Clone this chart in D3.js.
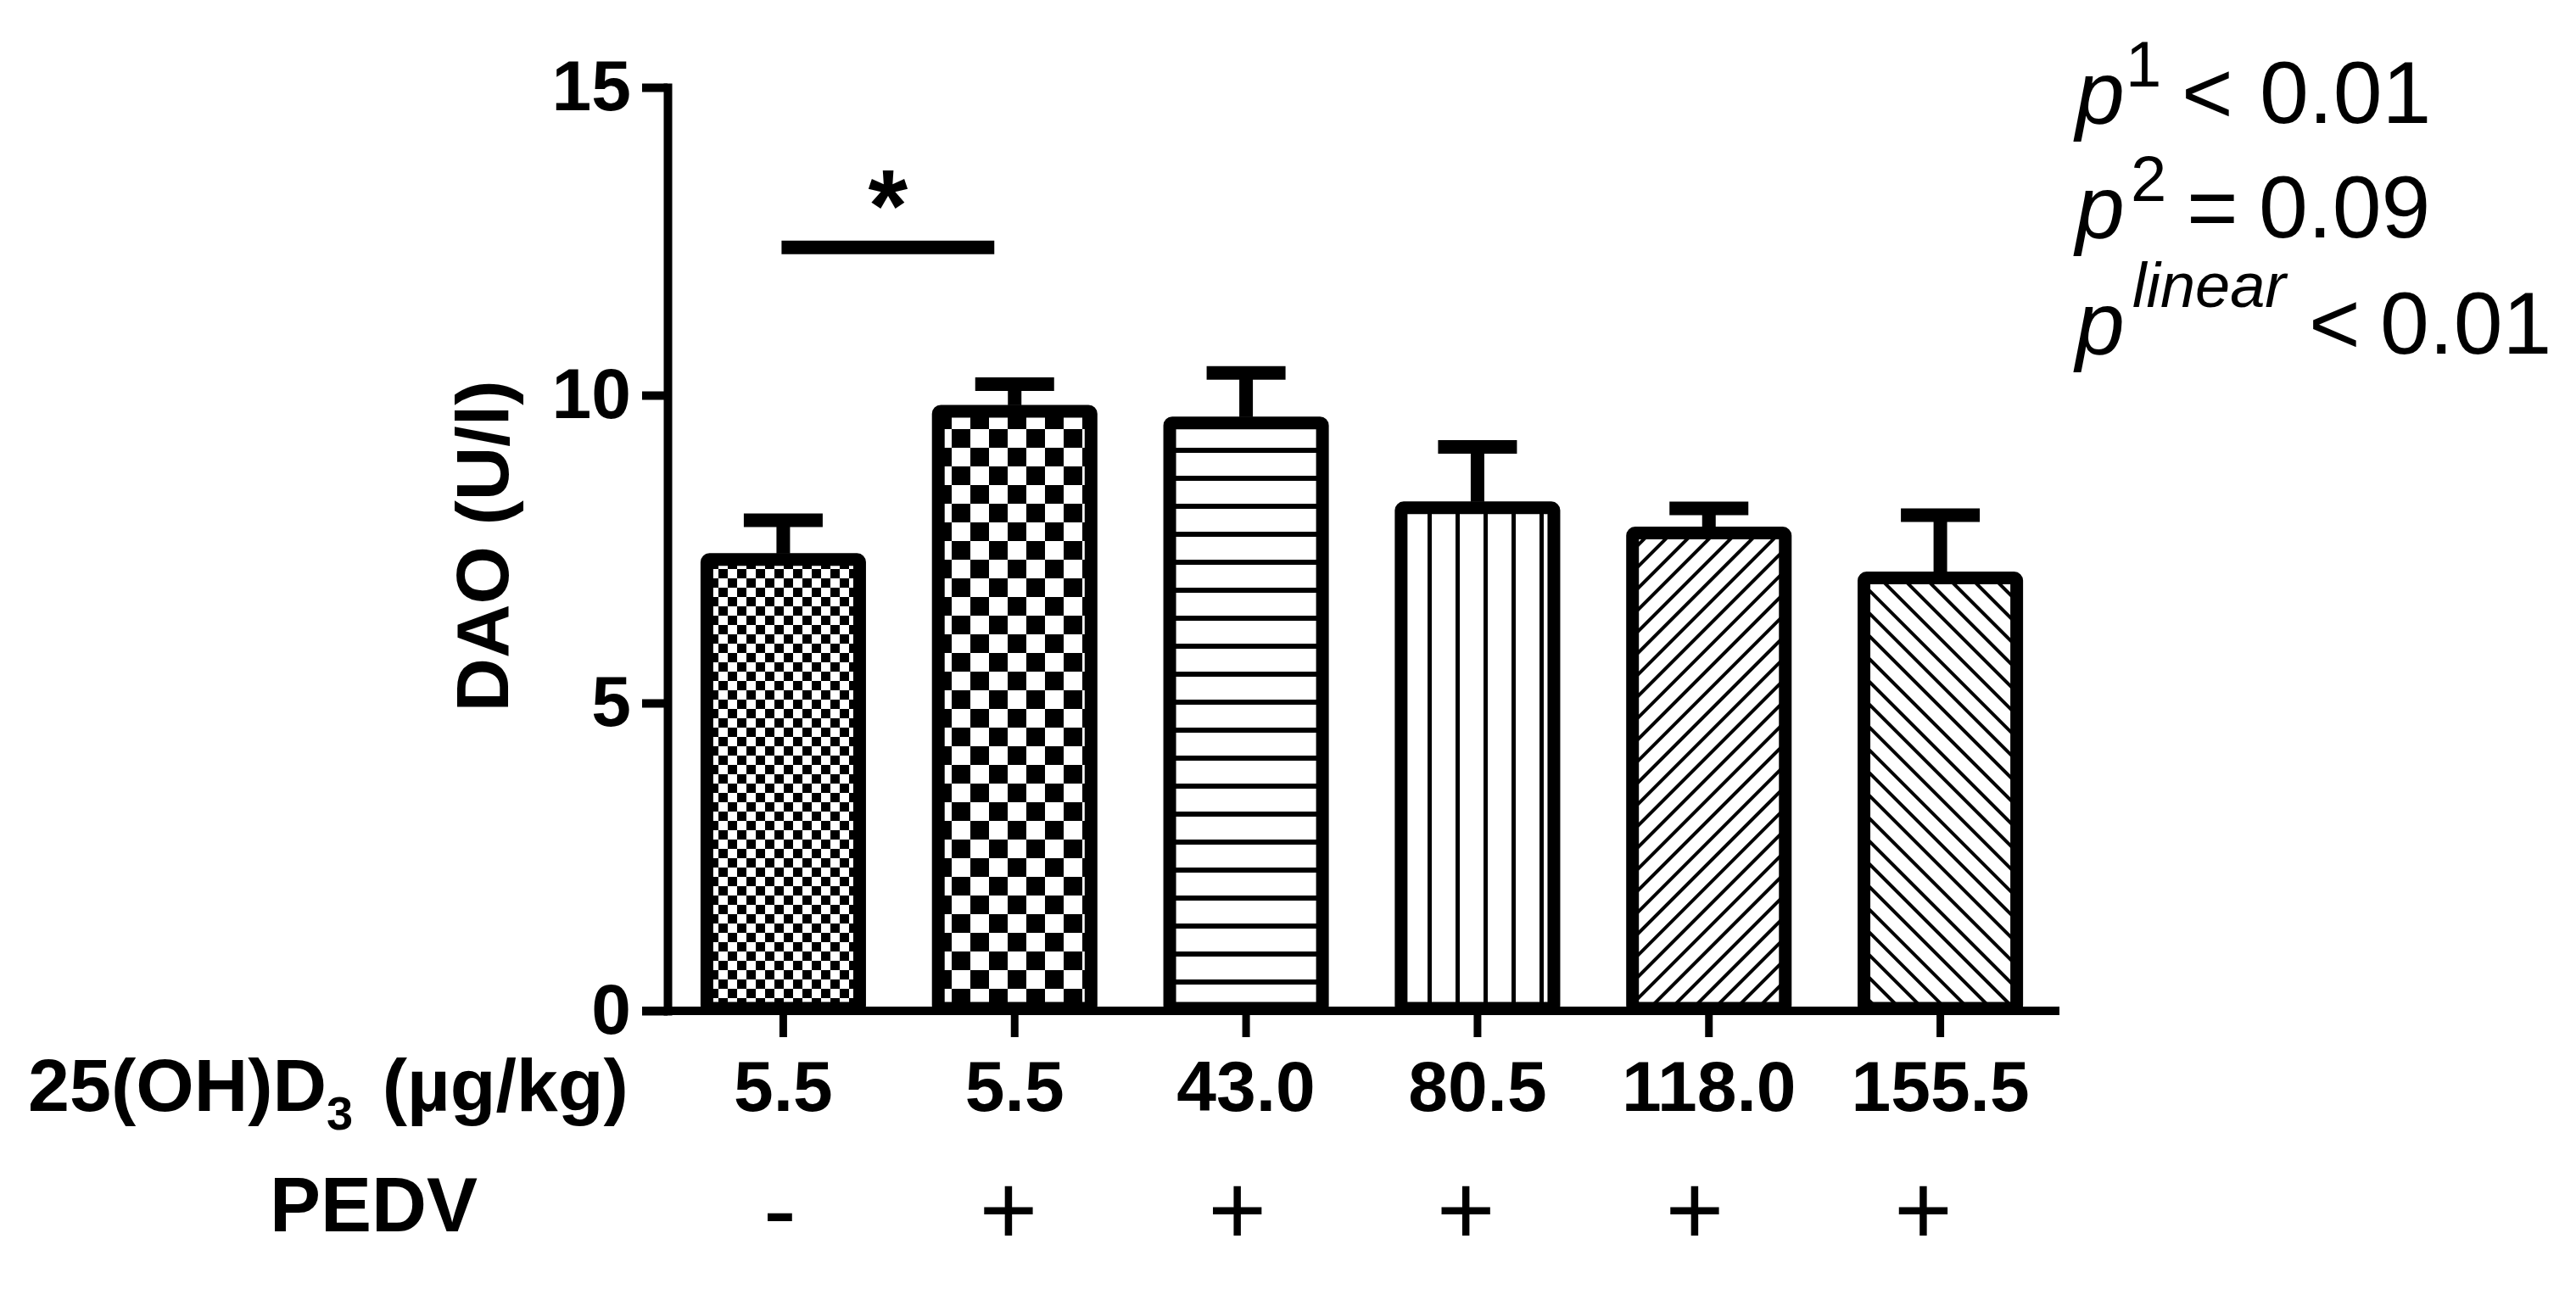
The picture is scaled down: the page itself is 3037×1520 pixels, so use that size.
<!DOCTYPE html>
<html lang="en">
<head>
<meta charset="UTF-8">
<title>DAO</title>
<script src="https://cdn.jsdelivr.net/npm/d3@7"></script>
<style>
    body { margin: 0; background: #fff; }
    text { font-family: Arial, "Liberation Sans", sans-serif; fill: #000; }
</style>
</head>
<body>
<div id="chart"></div>
<script>
    // data
    const doses = ["5.5", "5.5", "43.0", "80.5", "118.0", "155.5"];
    const pedv = ["-", "+", "+", "+", "+", "+"];
    const means = [7.33, 9.74, 9.55, 8.17, 7.76, 7.03];
    const sems = [0.64, 0.44, 0.81, 0.99, 0.40, 1.02];
    const fills = ["checkFine", "checkCoarse", "hLines", "vLines", "diagUp", "diagDown"];
    const yTicks = [0, 5, 10, 15];
    const sigPair = [0, 1];
    const sigLevel = 12.4;
    const pSup = ["1", "2", "linear"];
    const pOp = ["<", "=", "<"];
    const pVal = ["0.01", "0.09", "0.01"];

    const width = 3037;
    const height = 1520;

    const svg = d3.select("#chart")
        .append("svg")
        .attr("width", width)
        .attr("height", height)
        .style("display", "block");

    svg.append("rect").attr("width", width).attr("height", height).attr("fill", "#fff");

    const y = d3.scaleLinear().domain([0, 15]).range([1192, 103]);
    const x = d3.scaleBand().domain(d3.range(means.length))
        .range([787, 2424]).paddingInner(0.34).paddingOuter(0.17);
    const bw = x.bandwidth();
    const cx = i => x(i) + bw / 2;

    // hatch patterns
    const defs = svg.append("defs");
    function pattern(id, w, h, rot) {
        const p = defs.append("pattern").attr("id", id)
            .attr("patternUnits", "userSpaceOnUse")
            .attr("width", w).attr("height", h);
        if (rot) p.attr("patternTransform", "rotate(" + rot + ")");
        p.append("rect").attr("width", w).attr("height", h).attr("fill", "#fff");
        return p;
    }
    let p = pattern("checkFine", 22, 22);
    p.append("rect").attr("width", 11).attr("height", 11);
    p.append("rect").attr("x", 11).attr("y", 11).attr("width", 11).attr("height", 11);
    p = pattern("checkCoarse", 44, 44);
    p.append("rect").attr("width", 22).attr("height", 22);
    p.append("rect").attr("x", 22).attr("y", 22).attr("width", 22).attr("height", 22);
    p = pattern("hLines", 20, 33);
    p.append("rect").attr("width", 20).attr("height", 6);
    p = pattern("vLines", 33, 20);
    p.append("rect").attr("width", 5).attr("height", 20);
    p = pattern("diagUp", 18, 18, 45);
    p.append("rect").attr("width", 4).attr("height", 18);
    p = pattern("diagDown", 19, 19, -45);
    p.append("rect").attr("width", 4).attr("height", 19);

    // bars
    svg.selectAll("rect.bar").data(means).enter()
        .append("rect")
        .attr("class", "bar")
        .attr("x", (d, i) => x(i))
        .attr("width", bw)
        .attr("y", d => y(d))
        .attr("height", d => y(0) - y(d) - 3)
        .attr("rx", 3)
        .attr("fill", (d, i) => "url(#" + fills[i] + ")")
        .attr("stroke", "#000")
        .attr("stroke-width", 15);

    // error bars (upper only)
    const err = svg.append("g").attr("stroke", "#000").attr("stroke-width", 16);
    err.selectAll("line.stem").data(means).enter()
        .append("line").attr("class", "stem")
        .attr("x1", (d, i) => cx(i)).attr("x2", (d, i) => cx(i))
        .attr("y1", d => y(d) - 7)
        .attr("y2", (d, i) => y(d + sems[i]));
    err.selectAll("line.cap").data(means).enter()
        .append("line").attr("class", "cap")
        .attr("x1", (d, i) => cx(i) - 46.5).attr("x2", (d, i) => cx(i) + 46.5)
        .attr("y1", (d, i) => y(d + sems[i]))
        .attr("y2", (d, i) => y(d + sems[i]));

    // significance bar
    svg.append("line")
        .attr("x1", cx(sigPair[0]) - 2).attr("x2", cx(sigPair[1]) - 24)
        .attr("y1", y(sigLevel)).attr("y2", y(sigLevel))
        .attr("stroke", "#000").attr("stroke-width", 16);
    svg.append("text")
        .attr("x", (cx(sigPair[0]) + cx(sigPair[1]) - 26) / 2)
        .attr("y", y(sigLevel) - 8)
        .attr("text-anchor", "middle")
        .attr("font-size", 120).attr("font-weight", "bold")
        .text("*");

    // y axis
    const yAxis = svg.append("g")
        .attr("transform", "translate(787,0)")
        .call(d3.axisLeft(y).tickValues(yTicks).tickSize(30).tickSizeOuter(0).tickPadding(13));
    yAxis.select(".domain").attr("stroke-width", 10).attr("stroke-linecap", "square");
    yAxis.selectAll(".tick line").attr("stroke-width", 10);
    yAxis.selectAll(".tick text")
        .attr("font-size", 84).attr("font-weight", "bold")
        .attr("font-family", "Arial, 'Liberation Sans', sans-serif");

    // x axis
    svg.append("line")
        .attr("x1", 757).attr("x2", x.range()[1] + 4)
        .attr("y1", y(0)).attr("y2", y(0))
        .attr("stroke", "#000").attr("stroke-width", 10);
    const xAxis = svg.append("g")
        .attr("transform", "translate(0," + y(0) + ")")
        .call(d3.axisBottom(x).tickSize(31).tickFormat(i => doses[i]));
    xAxis.select(".domain").remove();
    xAxis.selectAll(".tick line").attr("stroke-width", 9);
    xAxis.selectAll(".tick text")
        .attr("y", 118).attr("dy", 0)
        .attr("font-size", 84).attr("font-weight", "bold")
        .attr("font-family", "Arial, 'Liberation Sans', sans-serif");

    // PEDV row
    const sx = d3.scalePoint().domain(d3.range(pedv.length)).range([cx(0) - 4, cx(5) - 20]);
    svg.selectAll("text.pedv").data(pedv).enter()
        .append("text").attr("class", "pedv")
        .attr("x", (d, i) => sx(i))
        .attr("y", 1467)
        .attr("text-anchor", "middle")
        .attr("font-size", 118)
        .text(d => d);

    // row labels
    const lab = svg.append("text")
        .attr("x", 33).attr("y", 1310)
        .attr("font-size", 88).attr("font-weight", "bold");
    lab.append("tspan").text("25(OH)D");
    lab.append("tspan").attr("font-size", 56).attr("dy", 22).text("3");
    lab.append("tspan").attr("dy", -22).attr("dx", 10).text(" (\u00b5g/kg)");

    svg.append("text")
        .attr("x", 318).attr("y", 1452)
        .attr("font-size", 90).attr("font-weight", "bold")
        .text("PEDV");

    // y title
    svg.append("text")
        .attr("transform", "translate(599,644) rotate(-90)")
        .attr("text-anchor", "middle")
        .attr("font-size", 88).attr("font-weight", "bold")
        .text("DAO (U/l)");

    // p-values block
    const pBase = [145, 280, 417];
    const supX = [2506, 2512, 2514];
    const opX = [2572, 2578, 2722];
    const valX = [2664, 2663, 2806];
    pSup.forEach(function (s, i) {
        const g = svg.append("g");
        g.append("text").attr("x", 2447).attr("y", pBase[i])
            .attr("font-size", 104).attr("font-style", "italic").text("p");
        const sup = g.append("text").attr("x", supX[i])
            .attr("font-size", i < 2 ? 76 : 74)
            .attr("y", pBase[i] - (i < 2 ? 43 : 55))
            .text(s);
        if (i === 2) sup.attr("font-style", "italic");
        g.append("text").attr("x", opX[i]).attr("y", pBase[i])
            .attr("font-size", 104).text(pOp[i]);
        g.append("text").attr("x", valX[i]).attr("y", pBase[i])
            .attr("font-size", 104).text(pVal[i]);
    });
</script>
</body>
</html>
